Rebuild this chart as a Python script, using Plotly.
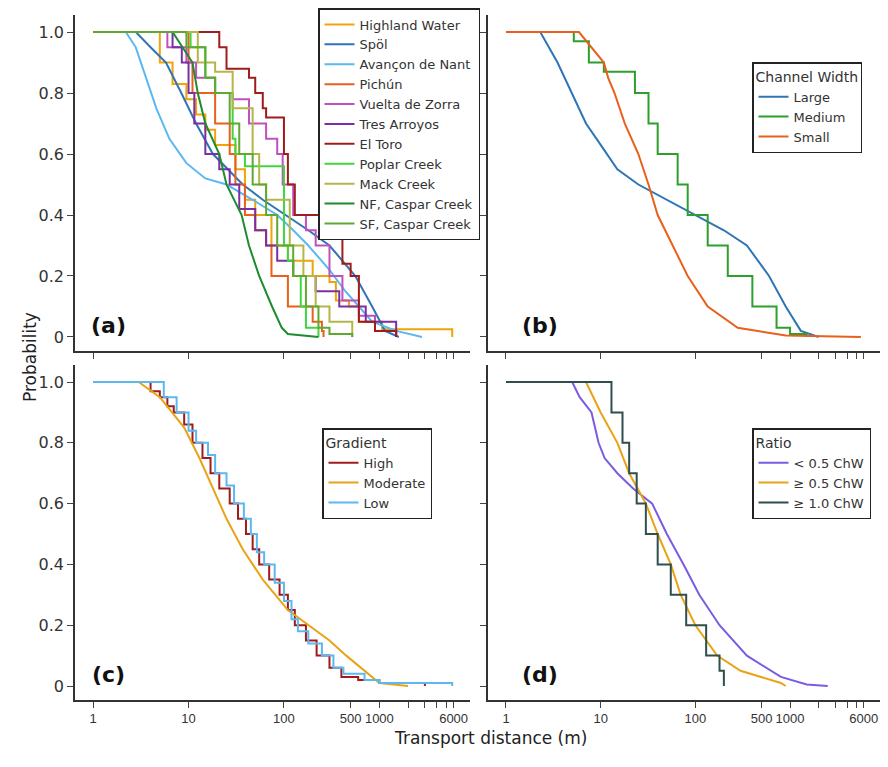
import plotly.graph_objects as go

# ---------------- data (distance m, exceedance probability) ----------------
hw_d = [1, 3.9, 5, 6.8, 9.5, 12, 15, 19, 31, 39, 50, 74, 110, 200, 300, 350, 480, 610, 1070, 5800, 5800]
hw_p = [1, 1, 0.9, 0.83, 0.78, 0.73, 0.68, 0.63, 0.55, 0.45, 0.4, 0.3, 0.25, 0.2, 0.18, 0.12, 0.1, 0.05, 0.025, 0.025, 0]
spol_d = [1, 2.8, 4, 5.8, 8.4, 12, 18, 37, 60, 105, 180, 300, 560, 840, 1150, 1600]
spol_p = [1, 1, 0.95, 0.9, 0.8, 0.7, 0.6, 0.5, 0.45, 0.4, 0.35, 0.3, 0.2, 0.1, 0.02, 0]
av_d = [1, 2.2, 2.8, 3.6, 4.6, 6.3, 9.5, 15, 25, 47, 85, 125, 180, 300, 440, 610, 840, 1500, 2800]
av_p = [1, 1, 0.95, 0.85, 0.75, 0.65, 0.57, 0.52, 0.5, 0.45, 0.4, 0.35, 0.3, 0.22, 0.15, 0.1, 0.05, 0.02, 0]
pi_d = [1, 8, 10, 11, 19, 27, 31, 39, 50, 65, 74, 110, 200, 250, 260]
pi_p = [1, 1, 0.9, 0.8, 0.7, 0.6, 0.5, 0.4, 0.35, 0.3, 0.2, 0.1, 0.05, 0.02, 0]
vz_d = [1, 4.6, 6, 9.5, 12, 19, 29, 43, 65, 85, 97, 125, 170, 215, 300, 410, 610, 900, 1500]
vz_p = [1, 1, 0.95, 0.9, 0.85, 0.8, 0.78, 0.7, 0.65, 0.6, 0.5, 0.4, 0.35, 0.3, 0.2, 0.12, 0.07, 0.02, 0]
ta_d = [1, 4.6, 6.8, 8.5, 10, 11.5, 15, 21, 27, 34, 50, 65, 85, 125, 215, 380, 720, 1500]
ta_p = [1, 1, 0.95, 0.9, 0.8, 0.7, 0.6, 0.55, 0.5, 0.42, 0.35, 0.3, 0.25, 0.2, 0.15, 0.1, 0.05, 0]
et_d = [1, 18.7, 21, 25, 43, 50, 60, 65, 100, 110, 130, 300, 410, 500, 610, 900, 1500]
et_p = [1, 1, 0.95, 0.88, 0.85, 0.8, 0.75, 0.72, 0.6, 0.5, 0.4, 0.36, 0.24, 0.2, 0.05, 0.02, 0]
pc_d = [1, 8.7, 10.5, 15, 19, 29, 31, 39, 100, 110, 125, 150, 170, 230]
pc_p = [1, 1, 0.95, 0.85, 0.8, 0.65, 0.6, 0.56, 0.3, 0.25, 0.2, 0.1, 0.03, 0]
mc_d = [1, 9.8, 12.5, 19, 29, 47, 55, 65, 115, 160, 215, 300, 520]
mc_p = [1, 1, 0.9, 0.87, 0.75, 0.6, 0.5, 0.45, 0.3, 0.2, 0.1, 0.05, 0]
nf_d = [1, 6.8, 11, 12.5, 15, 21, 25, 36, 43, 55, 75, 95, 110, 230]
nf_p = [1, 1, 0.9, 0.8, 0.7, 0.6, 0.5, 0.4, 0.3, 0.2, 0.1, 0.03, 0.01, 0]
sf_d = [1, 5.8, 9.5, 15, 19, 27, 34, 47, 65, 85, 125, 170, 230, 300, 520]
sf_p = [1, 1, 0.95, 0.85, 0.8, 0.7, 0.6, 0.5, 0.4, 0.3, 0.2, 0.1, 0.03, 0.01, 0]

lg_d = [1, 2.3, 3.5, 5, 7, 10, 15, 25, 50, 100, 200, 350, 600, 900, 1300, 2000]
lg_p = [1, 1, 0.9, 0.8, 0.7, 0.63, 0.55, 0.5, 0.45, 0.4, 0.35, 0.3, 0.2, 0.1, 0.02, 0]
md_d = [1, 4.7, 5.2, 7.5, 10.8, 23, 32, 40, 65, 83, 135, 220, 400, 720, 1000, 1500]
md_p = [1, 1, 0.97, 0.9, 0.87, 0.8, 0.7, 0.6, 0.5, 0.4, 0.3, 0.2, 0.1, 0.03, 0.01, 0]
sm_d = [1, 5.9, 10.8, 12, 14, 18, 25, 32, 40, 58, 83, 135, 280, 900, 5600]
sm_p = [1, 1, 0.9, 0.85, 0.8, 0.7, 0.6, 0.5, 0.4, 0.3, 0.2, 0.1, 0.03, 0.005, 0]

hi_d = [1, 3, 4, 5, 6, 7, 9, 11, 14, 17, 21, 27, 33, 40, 47, 55, 70, 90, 110, 130, 170, 220, 300, 400, 600, 1000, 3000]
hi_p = [1, 1, 0.97, 0.95, 0.92, 0.9, 0.86, 0.8, 0.75, 0.7, 0.65, 0.6, 0.55, 0.5, 0.45, 0.4, 0.35, 0.3, 0.25, 0.2, 0.15, 0.1, 0.06, 0.03, 0.02, 0.01, 0]
mo_d = [1, 3, 5, 9, 13, 18, 25, 37, 60, 110, 180, 300, 450, 700, 1000, 2000]
mo_p = [1, 1, 0.95, 0.85, 0.75, 0.65, 0.55, 0.45, 0.35, 0.25, 0.2, 0.15, 0.1, 0.05, 0.01, 0]
lo_d = [1, 4, 5.5, 7.5, 10, 12, 16, 19, 25, 30, 38, 45, 52, 62, 80, 100, 120, 140, 180, 250, 330, 420, 700, 1000, 5800, 5800]
lo_p = [1, 1, 0.95, 0.9, 0.84, 0.8, 0.76, 0.7, 0.66, 0.6, 0.55, 0.5, 0.44, 0.4, 0.34, 0.28, 0.22, 0.18, 0.14, 0.1, 0.06, 0.04, 0.02, 0.01, 0.01, 0]

r1_d = [1, 5, 6, 8, 9.5, 11, 15, 22, 35, 50, 75, 110, 180, 350, 800, 1500, 2500]
r1_p = [1, 1, 0.95, 0.9, 0.8, 0.75, 0.7, 0.65, 0.6, 0.5, 0.4, 0.3, 0.2, 0.1, 0.03, 0.005, 0]
r2_d = [1, 7, 10, 15, 20, 30, 40, 55, 70, 100, 170, 300, 800, 900]
r2_p = [1, 1, 0.9, 0.8, 0.7, 0.6, 0.5, 0.4, 0.3, 0.2, 0.1, 0.05, 0.01, 0]
r3_d = [1, 10, 13, 17, 20, 24, 30, 40, 55, 80, 130, 180, 200, 200]
r3_p = [1, 1, 0.9, 0.8, 0.7, 0.6, 0.5, 0.4, 0.3, 0.2, 0.1, 0.05, 0.05, 0]

tick_vals = [1, 10, 100, 500, 1000, 2000, 3000, 4000, 5000, 6000]
tick_text = ["1", "10", "100", "500", "1000", "", "", "", "", "6000"]

panel_a = [
    ("Highland Water", hw_d, hw_p, "#F0A30A", "hv"),
    ("Spöl", spol_d, spol_p, "#2E75B6", "linear"),
    ("Avançon de Nant", av_d, av_p, "#5BB8F0", "linear"),
    ("Pichún", pi_d, pi_p, "#E8601C", "hv"),
    ("Vuelta de Zorra", vz_d, vz_p, "#C050C0", "hv"),
    ("Tres Arroyos", ta_d, ta_p, "#7B2FA0", "hv"),
    ("El Toro", et_d, et_p, "#A01C1C", "hv"),
    ("Poplar Creek", pc_d, pc_p, "#3ED63E", "hv"),
    ("Mack Creek", mc_d, mc_p, "#B5B54A", "hv"),
    ("NF, Caspar Creek", nf_d, nf_p, "#1E8C2E", "linear"),
    ("SF, Caspar Creek", sf_d, sf_p, "#5FA832", "hv"),
]
panel_b = [("Large", lg_d, lg_p, "#2E75B6", "linear"),
           ("Medium", md_d, md_p, "#2CA02C", "hv"),
           ("Small", sm_d, sm_p, "#E8601C", "linear")]
panel_c = [("High", hi_d, hi_p, "#A01C1C", "hv"),
           ("Moderate", mo_d, mo_p, "#E8A317", "linear"),
           ("Low", lo_d, lo_p, "#5BB8F0", "hv")]
panel_d = [("< 0.5 ChW", r1_d, r1_p, "#7B5CE0", "linear"),
           ("≥ 0.5 ChW", r2_d, r2_p, "#E8A317", "linear"),
           ("≥ 1.0 ChW", r3_d, r3_p, "#2F4F4F", "hv")]

fig = go.Figure()
axes = [("x", "y", "legend", panel_a), ("x2", "y2", "legend2", panel_b),
        ("x3", "y3", "legend3", panel_c), ("x4", "y4", "legend4", panel_d)]
for xa, ya, lg, series in axes:
    for name, d, p, c, shp in series:
        fig.add_trace(go.Scatter(x=d, y=p, mode="lines", name=name, xaxis=xa, yaxis=ya,
                                 legend=lg, line=dict(color=c, width=2, shape=shp)))

W, H = 888, 767
xdom_l = [75 / W, 470 / W]
xdom_r = [488 / W, 880 / W]
ydom_t = [1 - 351 / H, 1 - 15 / H]
ydom_b = [1 - 700 / H, 1 - 365 / H]

def xax(dom, labels, anchor):
    return dict(domain=dom, type="log", range=[-0.19, 3.95], tickvals=tick_vals,
                ticktext=tick_text if labels else [""] * len(tick_vals), tickangle=0,
                ticks="outside", ticklen=6, showline=True, linecolor="#333", linewidth=1.5,
                showgrid=False, zeroline=False, anchor=anchor, automargin=False,
                tickfont=dict(size=13, family="Liberation Sans", color="#333"))

def yax(dom, labels, anchor):
    return dict(domain=dom, range=[-0.046, 1.056], tickvals=[0, 0.2, 0.4, 0.6, 0.8, 1.0],
                ticktext=["0", "0.2", "0.4", "0.6", "0.8", "1.0"] if labels else [""] * 6,
                ticks="outside", ticklen=6, showline=True, linecolor="#333", linewidth=1.5,
                showgrid=False, zeroline=False, anchor=anchor, automargin=False,
                tickfont=dict(size=16, color="#333"))

leg_common = dict(bgcolor="white", bordercolor="#222", borderwidth=1.5,
                  font=dict(size=13, family="DejaVu Sans", color="#333"),
                  xanchor="left", yanchor="top", tracegroupgap=0, itemwidth=30)

fig.update_layout(
    width=W, height=H, margin=dict(l=0, r=0, t=0, b=0, autoexpand=False),
    plot_bgcolor="white", paper_bgcolor="white",
    font=dict(family="DejaVu Sans", color="#333"),
    xaxis=xax(xdom_l, False, "y"), yaxis=yax(ydom_t, True, "x"),
    xaxis2=xax(xdom_r, False, "y2"), yaxis2=yax(ydom_t, False, "x2"),
    xaxis3=xax(xdom_l, True, "y3"), yaxis3=yax(ydom_b, True, "x3"),
    xaxis4=xax(xdom_r, True, "y4"), yaxis4=yax(ydom_b, False, "x4"),
    legend=dict(x=318 / W, y=1 - 8 / H, **leg_common),
    legend2=dict(x=752 / W, y=1 - 62 / H, title=dict(text="Channel Width", side="top", font=dict(size=14)), **leg_common),
    legend3=dict(x=322 / W, y=1 - 428 / H, title=dict(text="Gradient", side="top", font=dict(size=14)), **leg_common),
    legend4=dict(x=752 / W, y=1 - 428 / H, title=dict(text="Ratio", side="top", font=dict(size=14)), **leg_common),
    showlegend=True,
)

for txt, px, py in [("(a)", 108, 325), ("(b)", 540, 325), ("(c)", 108, 674), ("(d)", 540, 674)]:
    fig.add_annotation(text="<b>%s</b>" % txt, x=px / W, y=1 - py / H, xref="paper", yref="paper",
                       showarrow=False, font=dict(size=22, color="#111"), xanchor="center", yanchor="middle")
fig.add_annotation(text="Probability", x=18 / W, y=1 - 357 / H, xref="paper", yref="paper",
                   showarrow=False, textangle=-90, font=dict(size=17, color="#222"))
fig.add_annotation(text="Transport distance (m)", x=490 / W, y=1 - 750 / H, xref="paper", yref="paper",
                   showarrow=False, font=dict(size=17, color="#222"))

fig.write_html("out.html", config={"displayModeBar": False},
               post_script="document.body.style.margin='0';")
